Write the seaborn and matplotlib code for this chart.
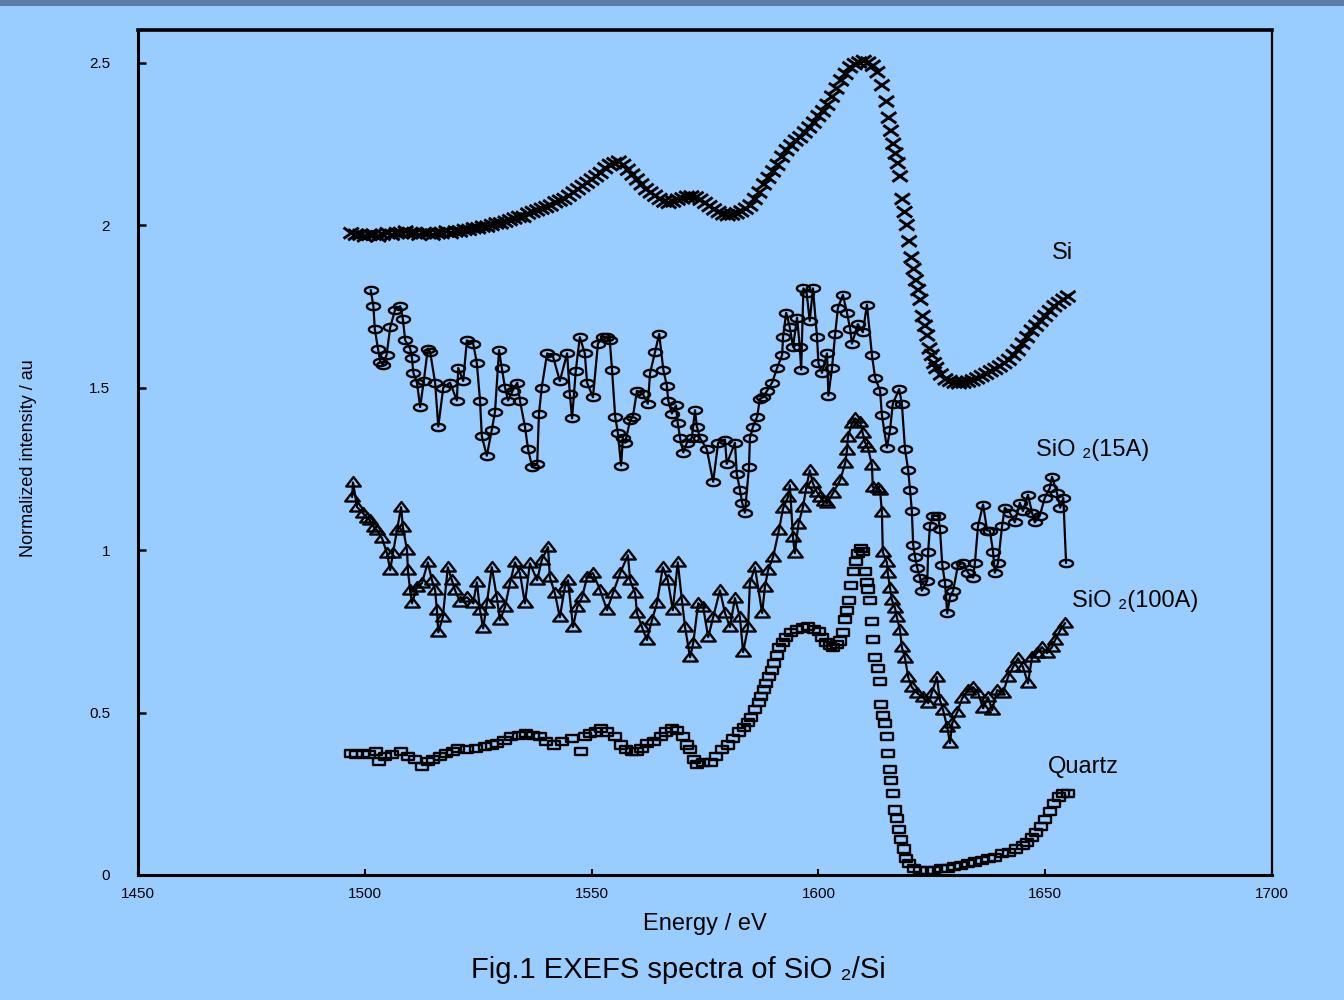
import numpy as np
import matplotlib
matplotlib.use("Agg")
import matplotlib.pyplot as plt
from matplotlib.path import Path
from matplotlib.patches import Rectangle
from matplotlib.ticker import FuncFormatter
import seaborn as sns

# ---- Si (crosses, no connecting line) ----
si_energy = [1497, 1498, 1499, 1500, 1501, 1502, 1503, 1504, 1505, 1506, 1507, 1508, 1509, 1510,
             1511, 1512, 1513, 1514, 1515, 1516, 1517, 1518, 1519, 1520, 1521, 1522, 1523, 1524,
             1525, 1526, 1527, 1528, 1529, 1530, 1531, 1532, 1533, 1534, 1535, 1536, 1537, 1538,
             1539, 1540, 1541, 1542, 1543, 1544, 1545, 1546, 1547, 1548, 1549, 1550, 1551, 1552,
             1553, 1554, 1555, 1556, 1557, 1558, 1559, 1560, 1561, 1562, 1563, 1564, 1565, 1566,
             1567, 1568, 1569, 1570, 1571, 1572, 1573, 1574, 1575, 1576, 1577, 1578, 1579, 1580,
             1581, 1582, 1583, 1584, 1585, 1586, 1587, 1588, 1589, 1590, 1591, 1592, 1593, 1594,
             1595, 1596, 1597, 1598, 1599, 1600, 1601, 1602, 1603, 1604, 1605, 1606, 1607, 1608,
             1609, 1610, 1611, 1612, 1613, 1614, 1615, 1615.5, 1616, 1616.5, 1617, 1617.5, 1618,
             1618.5, 1619, 1619.5, 1620, 1620.5, 1621, 1621.5, 1622, 1622.5, 1623, 1623.5, 1624,
             1624.5, 1625, 1625.5, 1626, 1627, 1628, 1629, 1630, 1631, 1632, 1633, 1634, 1635,
             1636, 1637, 1638, 1639, 1640, 1641, 1642, 1643, 1644, 1645, 1646, 1647, 1648, 1649,
             1650, 1651, 1652, 1653, 1654, 1655]
si_intensity = [1.975, 1.970, 1.970, 1.965, 1.970, 1.970, 1.965, 1.970, 1.975, 1.970, 1.975, 1.975,
                1.980, 1.975, 1.975, 1.970, 1.975, 1.975, 1.970, 1.975, 1.975, 1.980, 1.975, 1.980,
                1.980, 1.985, 1.985, 1.990, 1.990, 1.995, 1.995, 2.000, 2.005, 2.005, 2.010, 2.015,
                2.020, 2.025, 2.025, 2.035, 2.040, 2.045, 2.050, 2.055, 2.060, 2.070, 2.075, 2.080,
                2.090, 2.100, 2.110, 2.120, 2.130, 2.140, 2.150, 2.160, 2.175, 2.185, 2.190, 2.195,
                2.185, 2.170, 2.155, 2.140, 2.125, 2.110, 2.100, 2.090, 2.080, 2.072, 2.068, 2.072,
                2.078, 2.082, 2.087, 2.088, 2.085, 2.078, 2.068, 2.058, 2.048, 2.040, 2.033, 2.030,
                2.032, 2.036, 2.042, 2.050, 2.060, 2.080, 2.100, 2.125, 2.145, 2.165, 2.185, 2.210,
                2.230, 2.245, 2.260, 2.270, 2.285, 2.300, 2.315, 2.335, 2.350, 2.370, 2.395, 2.420,
                2.445, 2.465, 2.485, 2.495, 2.500, 2.505, 2.500, 2.490, 2.470, 2.430, 2.380, 2.330,
                2.290, 2.250, 2.220, 2.190, 2.150, 2.080, 2.040, 2.000, 1.950, 1.900, 1.865, 1.830,
                1.800, 1.770, 1.720, 1.690, 1.660, 1.620, 1.600, 1.575, 1.560, 1.540, 1.525, 1.520,
                1.515, 1.513, 1.515, 1.518, 1.522, 1.528, 1.535, 1.542, 1.550, 1.557, 1.565, 1.575,
                1.585, 1.600, 1.615, 1.635, 1.655, 1.675, 1.690, 1.705, 1.720, 1.735, 1.750, 1.760,
                1.770, 1.780]

# ---- SiO2 (15A) (ellipses joined by a line) ----
sio2_15_energy = [1501.3, 1501.9, 1502.2, 1502.9, 1503.4, 1504.0, 1504.8, 1505.6, 1506.7, 1507.8,
                  1508.4, 1508.9, 1510.0, 1510.4, 1510.7, 1511.5, 1512.2, 1513.0, 1513.9, 1514.4,
                  1515.5, 1516.2, 1517.3, 1518.8, 1520.3, 1520.6, 1521.7, 1522.5, 1523.9, 1524.7,
                  1525.4, 1525.8, 1526.9, 1528.0, 1528.7, 1529.6, 1530.2, 1530.9, 1531.6, 1532.6,
                  1533.6, 1534.2, 1535.3, 1536.0, 1536.9, 1538.0, 1538.4, 1539.0, 1540.2, 1541.5,
                  1543.0, 1544.6, 1545.2, 1545.7, 1546.5, 1547.4, 1548.5, 1549.0, 1550.3, 1551.4,
                  1552.5, 1553.3, 1554.0, 1554.5, 1555.2, 1555.8, 1556.5, 1556.9, 1557.4, 1558.5,
                  1559.1, 1560.0, 1561.3, 1562.4, 1562.9, 1564.0, 1564.9, 1565.8, 1566.6, 1566.9,
                  1567.7, 1568.6, 1569.0, 1569.5, 1570.2, 1571.0, 1572.1, 1572.8, 1573.2, 1573.9,
                  1575.4, 1576.8, 1577.9, 1579.4, 1579.8, 1581.6, 1582.0, 1582.7, 1583.2, 1583.8,
                  1584.7, 1584.9, 1585.6, 1586.5, 1587.1, 1587.8, 1588.7, 1589.8, 1590.9, 1592.0,
                  1592.2, 1592.9, 1593.7, 1594.4, 1595.3, 1595.9, 1596.2, 1596.7, 1597.4, 1598.1,
                  1598.8, 1599.7, 1600.0, 1600.8, 1601.9, 1602.2, 1603.0, 1603.7, 1604.3, 1605.4,
                  1606.3, 1607.0, 1607.4, 1608.7, 1609.8, 1610.7, 1611.8, 1612.5, 1613.6, 1614.0,
                  1615.1, 1615.8, 1616.4, 1617.8, 1618.4, 1619.1, 1619.8, 1620.2, 1620.6, 1620.9,
                  1621.3, 1621.8, 1622.4, 1622.8, 1624.0, 1624.2, 1624.6, 1625.3, 1626.4, 1626.8,
                  1627.3, 1627.9, 1628.4, 1629.0, 1629.7, 1630.8, 1631.9, 1633.0, 1634.1, 1634.5,
                  1635.2, 1636.3, 1637.2, 1637.8, 1638.5, 1638.9, 1639.6, 1640.5, 1641.1, 1642.2,
                  1643.3, 1644.4, 1645.1, 1646.2, 1647.1, 1647.7, 1648.8, 1649.9, 1651.0, 1651.5,
                  1652.6, 1653.3, 1654.0, 1654.6]
sio2_15_intensity = [1.800, 1.750, 1.680, 1.620, 1.580, 1.570, 1.600, 1.685, 1.740, 1.750,
                     1.710, 1.645, 1.620, 1.590, 1.545, 1.515, 1.440, 1.520, 1.620, 1.610,
                     1.515, 1.380, 1.500, 1.515, 1.460, 1.560, 1.520, 1.645, 1.635, 1.575,
                     1.460, 1.350, 1.290, 1.370, 1.425, 1.615, 1.560, 1.500, 1.460, 1.490,
                     1.515, 1.460, 1.380, 1.310, 1.255, 1.265, 1.420, 1.500, 1.605, 1.595,
                     1.520, 1.605, 1.480, 1.405, 1.550, 1.655, 1.605, 1.515, 1.470, 1.635,
                     1.655, 1.655, 1.645, 1.555, 1.410, 1.360, 1.260, 1.345, 1.330, 1.400,
                     1.410, 1.490, 1.480, 1.450, 1.545, 1.610, 1.665, 1.555, 1.505, 1.460,
                     1.420, 1.445, 1.390, 1.345, 1.300, 1.330, 1.345, 1.430, 1.380, 1.345,
                     1.310, 1.210, 1.330, 1.340, 1.265, 1.330, 1.235, 1.185, 1.145, 1.115,
                     1.255, 1.345, 1.380, 1.410, 1.465, 1.470, 1.490, 1.515, 1.560, 1.600,
                     1.655, 1.730, 1.685, 1.625, 1.715, 1.625, 1.555, 1.805, 1.790, 1.705,
                     1.805, 1.655, 1.575, 1.545, 1.605, 1.475, 1.560, 1.665, 1.745, 1.785,
                     1.730, 1.680, 1.635, 1.695, 1.670, 1.755, 1.600, 1.530, 1.490, 1.415,
                     1.315, 1.370, 1.450, 1.495, 1.450, 1.310, 1.245, 1.185, 1.120, 1.015,
                     0.980, 0.945, 0.915, 0.875, 0.905, 0.995, 1.075, 1.105, 1.105, 1.065,
                     0.955, 0.900, 0.805, 0.855, 0.875, 0.955, 0.960, 0.930, 0.915, 0.960,
                     1.075, 1.140, 1.060, 1.060, 0.995, 0.930, 0.960, 1.075, 1.130, 1.115,
                     1.085, 1.145, 1.120, 1.170, 1.115, 1.085, 1.105, 1.160, 1.190, 1.225,
                     1.175, 1.130, 1.160, 0.960]

# ---- SiO2 (100A) (triangles joined by a line) ----
sio2_100_energy = [1497.2, 1497.4, 1498.3, 1499.6, 1500.4, 1501.1, 1502.0, 1502.7, 1503.8, 1504.9,
                   1505.6, 1506.2, 1507.1, 1508.0, 1508.4, 1509.3, 1509.5, 1510.0, 1510.4, 1511.5,
                   1512.6, 1513.9, 1514.8, 1515.5, 1515.9, 1516.2, 1517.2, 1518.3, 1519.2, 1519.9,
                   1521.0, 1522.5, 1523.9, 1524.7, 1525.4, 1526.1, 1526.9, 1528.0, 1529.1, 1529.8,
                   1530.9, 1532.0, 1533.1, 1534.2, 1535.3, 1536.4, 1538.0, 1539.0, 1540.4, 1540.8,
                   1541.9, 1543.0, 1544.1, 1544.8, 1545.9, 1546.8, 1547.9, 1549.0, 1550.3, 1551.9,
                   1553.4, 1554.7, 1556.3, 1558.0, 1558.5, 1559.6, 1560.0, 1561.1, 1562.2, 1563.3,
                   1564.4, 1565.7, 1566.8, 1567.9, 1569.0, 1569.9, 1570.6, 1571.7, 1572.4, 1573.5,
                   1574.6, 1575.7, 1576.8, 1578.3, 1579.4, 1580.5, 1581.6, 1582.7, 1583.4, 1584.5,
                   1584.9, 1586.0, 1587.6, 1588.2, 1588.9, 1590.0, 1591.3, 1592.2, 1593.3, 1593.7,
                   1594.4, 1594.8, 1595.6, 1596.6, 1597.3, 1598.1, 1598.8, 1599.6, 1600.4, 1601.2,
                   1601.9, 1603.2, 1604.8, 1605.9, 1606.3, 1606.5, 1607.4, 1608.1, 1609.2, 1609.8,
                   1610.3, 1610.9, 1611.8, 1612.0, 1613.1, 1613.6, 1614.0, 1614.2, 1615.1, 1615.3,
                   1615.8, 1616.2, 1616.9, 1617.3, 1618.0, 1618.4, 1619.1, 1619.8, 1620.6, 1621.7,
                   1623.0, 1624.2, 1625.0, 1626.1, 1626.8, 1627.5, 1628.4, 1629.0, 1629.5, 1630.6,
                   1631.7, 1633.0, 1634.1, 1635.2, 1636.3, 1637.4, 1638.3, 1639.4, 1640.7, 1641.8,
                   1642.9, 1644.0, 1645.1, 1646.2, 1647.1, 1648.2, 1649.3, 1650.4, 1651.5, 1652.2,
                   1653.3, 1654.4]
sio2_100_intensity = [1.163, 1.208, 1.132, 1.113, 1.100, 1.092, 1.070, 1.061, 1.036, 0.990,
                      0.938, 0.990, 1.061, 1.132, 1.070, 1.000, 0.938, 0.876, 0.836, 0.886,
                      0.898, 0.962, 0.907, 0.876, 0.815, 0.747, 0.793, 0.947, 0.907, 0.876,
                      0.840, 0.855, 0.836, 0.901, 0.815, 0.759, 0.836, 0.947, 0.855, 0.784,
                      0.824, 0.898, 0.962, 0.929, 0.836, 0.959, 0.907, 0.969, 1.009, 0.916,
                      0.867, 0.793, 0.886, 0.907, 0.763, 0.824, 0.855, 0.916, 0.929, 0.876,
                      0.815, 0.867, 0.929, 0.984, 0.907, 0.867, 0.806, 0.763, 0.723, 0.784,
                      0.836, 0.947, 0.907, 0.815, 0.962, 0.846, 0.763, 0.670, 0.713, 0.836,
                      0.824, 0.732, 0.793, 0.876, 0.806, 0.763, 0.852, 0.793, 0.686, 0.763,
                      0.898, 0.947, 0.806, 0.886, 0.938, 0.978, 1.061, 1.128, 1.163, 1.200,
                      1.039, 0.990, 1.080, 1.132, 1.190, 1.245, 1.205, 1.180, 1.163, 1.150,
                      1.144, 1.175, 1.215, 1.267, 1.307, 1.347, 1.390, 1.405, 1.393, 1.359,
                      1.330, 1.316, 1.261, 1.193, 1.190, 1.184, 1.116, 0.993, 0.962, 0.929,
                      0.883, 0.846, 0.821, 0.793, 0.753, 0.701, 0.667, 0.609, 0.578, 0.560,
                      0.547, 0.529, 0.560, 0.609, 0.538, 0.507, 0.455, 0.406, 0.467, 0.501,
                      0.544, 0.569, 0.578, 0.560, 0.513, 0.547, 0.507, 0.569, 0.560, 0.609,
                      0.640, 0.667, 0.640, 0.590, 0.670, 0.683, 0.701, 0.683, 0.701, 0.723,
                      0.753, 0.775]

# ---- Quartz (open rectangles, no connecting line) ----
quartz_energy = [1496.9, 1498.0, 1499.5, 1501.0, 1502.4, 1503.1, 1504.5, 1506.0, 1507.9, 1509.5,
                 1511.0, 1512.6, 1514.0, 1515.0, 1516.5, 1518.0, 1519.5, 1520.5, 1522.5, 1524.5,
                 1526.5, 1528.0, 1529.2, 1530.8, 1532.3, 1534.0, 1535.6, 1537.0, 1538.6, 1540.0,
                 1541.7, 1543.5, 1545.7, 1547.7, 1548.5, 1549.6, 1551.0, 1552.1, 1553.5, 1555.2,
                 1556.5, 1557.6, 1558.8, 1559.9, 1561.0, 1562.2, 1563.8, 1565.3, 1566.5, 1567.7,
                 1568.8, 1570.2, 1571.0, 1571.7, 1572.5, 1573.3, 1574.5, 1576.3, 1577.5, 1578.8,
                 1580.0, 1581.2, 1582.4, 1583.6, 1584.5, 1585.2, 1586.0, 1586.8, 1587.4, 1587.9,
                 1588.5, 1589.1, 1589.7, 1590.3, 1590.8, 1591.3, 1592.1, 1592.9, 1594.0, 1595.3,
                 1596.5, 1597.7, 1599.0, 1600.1, 1600.9, 1601.7, 1602.5, 1603.2, 1604.0, 1604.8,
                 1605.4, 1605.9, 1606.3, 1606.7, 1607.2, 1607.8, 1608.3, 1608.7, 1609.3, 1609.8,
                 1610.3, 1610.7, 1611.0, 1611.4, 1611.8, 1612.1, 1612.5, 1613.1, 1613.6, 1613.8,
                 1614.2, 1614.7, 1615.1, 1615.3, 1615.8, 1616.0, 1616.4, 1616.9, 1617.3, 1617.8,
                 1618.3, 1618.8, 1619.4, 1620.0, 1621.0, 1622.5, 1624.0, 1625.5, 1627.0, 1628.5,
                 1630.0, 1631.5, 1633.0, 1634.5, 1636.0, 1637.5, 1639.0, 1640.5, 1642.0, 1643.5,
                 1645.0, 1646.0, 1647.0, 1648.0, 1649.0, 1650.0, 1651.0, 1652.0, 1653.0, 1654.0,
                 1655.0]
quartz_intensity = [0.375, 0.370, 0.375, 0.370, 0.380, 0.350, 0.365, 0.370, 0.380, 0.365,
                    0.355, 0.335, 0.350, 0.355, 0.365, 0.375, 0.380, 0.390, 0.385, 0.390,
                    0.395, 0.400, 0.405, 0.415, 0.425, 0.430, 0.435, 0.430, 0.425, 0.410,
                    0.400, 0.410, 0.420, 0.380, 0.425, 0.435, 0.440, 0.450, 0.440, 0.425,
                    0.400, 0.385, 0.380, 0.380, 0.390, 0.405, 0.410, 0.425, 0.440, 0.450,
                    0.445, 0.425, 0.400, 0.385, 0.355, 0.340, 0.345, 0.345, 0.365, 0.385,
                    0.400, 0.420, 0.440, 0.455, 0.470, 0.485, 0.510, 0.530, 0.550, 0.570,
                    0.590, 0.610, 0.630, 0.650, 0.675, 0.700, 0.715, 0.730, 0.745, 0.755,
                    0.760, 0.765, 0.755, 0.750, 0.730, 0.715, 0.705, 0.700, 0.710, 0.720,
                    0.745, 0.785, 0.815, 0.845, 0.890, 0.935, 0.965, 0.990, 1.005, 0.995,
                    0.935, 0.900, 0.880, 0.845, 0.780, 0.725, 0.670, 0.635, 0.595, 0.525,
                    0.490, 0.465, 0.425, 0.375, 0.325, 0.290, 0.250, 0.200, 0.175, 0.140,
                    0.110, 0.080, 0.050, 0.035, 0.020, 0.015, 0.015, 0.015, 0.020, 0.020,
                    0.025, 0.030, 0.035, 0.040, 0.045, 0.050, 0.055, 0.065, 0.070, 0.080,
                    0.090, 0.100, 0.115, 0.130, 0.150, 0.170, 0.195, 0.220, 0.240, 0.250,
                    0.250]

y_ticks = [0, 0.5, 1, 1.5, 2, 2.5]
x_ticks = [1450, 1500, 1550, 1600, 1650, 1700]

BG = "#99ccff"

sns.set_style("ticks")
plt.rcParams["font.family"] = ["Liberation Sans", "DejaVu Sans"]
plt.rcParams["mathtext.default"] = "regular"

fig = plt.figure(figsize=(13.44, 10.0), dpi=100, facecolor=BG)
ax = fig.add_axes([138 / 1344, 0.125, (1272 - 138) / 1344, 0.845])
ax.set_facecolor(BG)

# thin dark band along the top edge of the slide
fig.patches.append(Rectangle((0, 0.994), 1, 0.006, transform=fig.transFigure,
                             facecolor="#5b7ca6", edgecolor="none", zorder=0))

# custom marker shapes (wide, flat)
cross = Path([(-1, -0.72), (1, 0.72), (-1, 0.72), (1, -0.72)],
             [Path.MOVETO, Path.LINETO, Path.MOVETO, Path.LINETO])
theta = np.linspace(0, 2 * np.pi, 40)
ellipse = Path(np.column_stack([np.cos(theta), 0.55 * np.sin(theta)]))
triangle = Path([(-1, -0.55), (1, -0.55), (0, 0.75), (-1, -0.55)],
                [Path.MOVETO, Path.LINETO, Path.LINETO, Path.CLOSEPOLY])
rect = Path([(-1, -0.6), (1, -0.6), (1, 0.6), (-1, 0.6), (-1, -0.6)],
            [Path.MOVETO, Path.LINETO, Path.LINETO, Path.LINETO, Path.CLOSEPOLY])

sns.scatterplot(x=si_energy, y=si_intensity, marker=cross, s=120, facecolors="none",
                edgecolors="k", linewidth=2.1, ax=ax, zorder=3)
sns.lineplot(x=sio2_15_energy, y=sio2_15_intensity, sort=False, estimator=None,
             color="k", linewidth=1.6, marker=ellipse, markersize=9.5,
             markerfacecolor="none", markeredgecolor="k", markeredgewidth=1.7, ax=ax, zorder=3)
sns.lineplot(x=sio2_100_energy, y=sio2_100_intensity, sort=False, estimator=None,
             color="k", linewidth=1.6, marker=triangle, markersize=10.5,
             markerfacecolor="none", markeredgecolor="k", markeredgewidth=1.7, ax=ax, zorder=3)
sns.scatterplot(x=quartz_energy, y=quartz_intensity, marker=rect, s=75, facecolors="none",
                edgecolors="k", linewidth=1.7, ax=ax, zorder=3)

ax.set_xlim(1450, 1700)
ax.set_ylim(0, 2.6)
ax.set_xticks(x_ticks)
ax.set_yticks(y_ticks)
fmt = FuncFormatter(lambda v, p: f"{v:g}")
ax.xaxis.set_major_formatter(fmt)
ax.yaxis.set_major_formatter(fmt)
ax.tick_params(axis="y", direction="in", length=6, width=1.8, pad=20, labelsize=11, colors="k")
ax.tick_params(axis="x", direction="in", length=4, width=1.5, pad=9, labelsize=11, colors="k")

for side, lw in {"left": 2.2, "bottom": 2.2, "top": 2.6, "right": 1.6}.items():
    ax.spines[side].set_visible(True)
    ax.spines[side].set_linewidth(lw)
    ax.spines[side].set_color("k")

ax.set_xlabel("Energy / eV", fontsize=17, labelpad=8, color="k")
ax.set_ylabel("")
fig.text(0.021, 0.542, "Normalized intensity / au", rotation=90, ha="center", va="center",
         fontsize=13, color="k")

label_kw = dict(fontsize=17, color="k", ha="center", va="center")
ax.text(1653.9, 1.913, "Si", **label_kw)
ax.text(1660.5, 1.307, "SiO ₂(15A)", **label_kw)
ax.text(1669.8, 0.843, "SiO ₂(100A)", **label_kw)
ax.text(1658.3, 0.332, "Quartz", **label_kw)

fig.text(0.505, 0.030, "Fig.1 EXEFS spectra of SiO ₂/Si", ha="center", va="center",
         fontsize=21, color="k")

fig.savefig("out.png", dpi=100, facecolor=BG)
